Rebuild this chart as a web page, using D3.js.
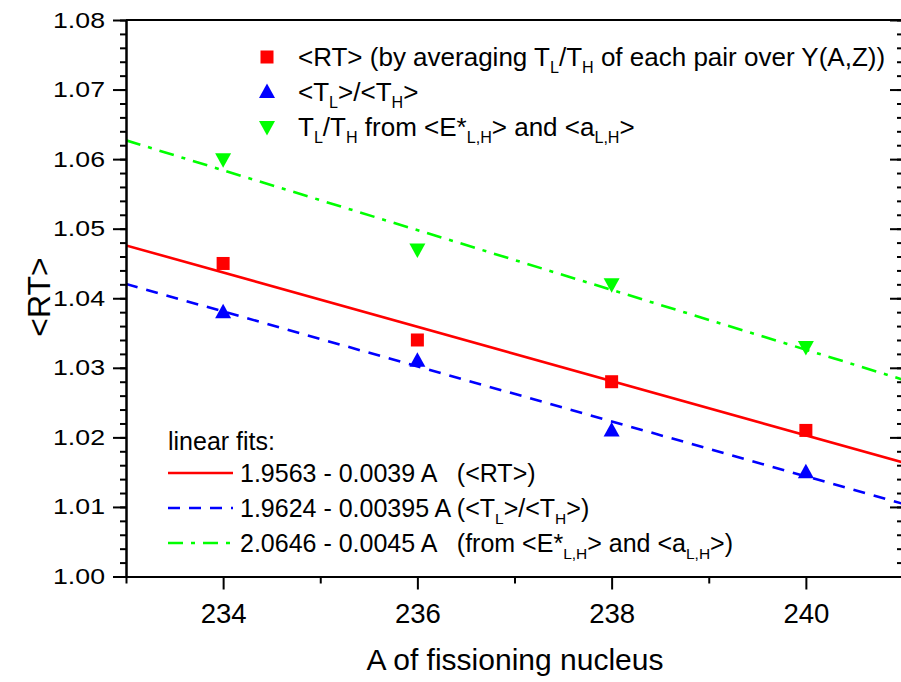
<!DOCTYPE html>
<html>
<head>
<meta charset="utf-8">
<script src="https://cdn.jsdelivr.net/npm/d3@7"></script>
<style>
  html, body { margin: 0; padding: 0; background: #fff; }
  svg { display: block; font-family: "Liberation Sans", Arial, sans-serif; }
  svg text { white-space: pre; }
</style>
</head>
<body>
<svg id="chart" width="901" height="682"></svg>
<script>
// ---------------- data ----------------
const massNumbers = [234, 236, 238, 240];
const rtAveraged = [1.045, 1.034, 1.028, 1.021];   // red squares
const tRatioMeans = [1.038, 1.031, 1.021, 1.015];  // blue up-triangles
const tFromEnergy = [1.060, 1.047, 1.042, 1.033];  // green down-triangles

const fitIntercepts = [1.9563, 1.9624, 2.0646];
const fitSlopes = [0.0039, 0.00395, 0.0043];

const xDomain = [233, 241];
const yDomain = [1.00, 1.08];
const xTickValues = [234, 236, 238, 240];
const xMinorValues = [233, 235, 237, 239, 241];
const yTickValues = [1.00, 1.01, 1.02, 1.03, 1.04, 1.05, 1.06, 1.07, 1.08];

const markerLabels = [
  "<RT> (by averaging T_{L}/T_{H} of each pair over Y(A,Z))",
  "<T_{L}>/<T_{H}>",
  "T_{L}/T_{H} from <E*_{L,H}> and <a_{L,H}>"
];
const fitLabels = [
  "1.9563 - 0.0039 A   (<RT>)",
  "1.9624 - 0.00395 A (<T_{L}>/<T_{H}>)",
  "2.0646 - 0.0045 A   (from <E*_{L,H}> and <a_{L,H}>)"
];
const fitTitle = "linear fits:";
const xTitle = "A of fissioning nucleus";
const yTitle = "<RT>";

// ---------------- styles ----------------
const colors = ["#ff0000", "#0000ff", "#00ff00"];
const dashes = [null, "12,9", "15,8,4,8"];
const seriesValues = [rtAveraged, tRatioMeans, tFromEnergy];
const markerTypes = ["square", "up", "down"];

const svg = d3.select("#chart");
const L = 126, R = 903, T = 20, B = 576.5;

const x = d3.scaleLinear().domain(xDomain).range([L, R]);
const y = d3.scaleLinear().domain(yDomain).range([B, T]);

// rich text helper: supports _{sub}
function rich(sel, str, size) {
  const parts = str.split(/(_\{[^}]*\})/).filter(p => p);
  const shift = size * 0.28;
  let pendingUp = false;
  parts.forEach(p => {
    if (p.startsWith("_{")) {
      sel.append("tspan").attr("font-size", size * 0.62).attr("dy", shift)
        .text(p.slice(2, -1));
      pendingUp = true;
    } else {
      const ts = sel.append("tspan").attr("font-size", size).text(p);
      if (pendingUp) { ts.attr("dy", -shift); pendingUp = false; }
    }
  });
}

// clip
svg.append("clipPath").attr("id", "clip").append("rect")
  .attr("x", L).attr("y", T).attr("width", R - L).attr("height", B - T);

// fit lines
const fitG = svg.append("g").attr("clip-path", "url(#clip)");
fitIntercepts.forEach((a, i) => {
  const line = d3.line().x(d => x(d)).y(d => y(a - fitSlopes[i] * d));
  fitG.append("path")
    .attr("d", line(xDomain))
    .attr("fill", "none")
    .attr("stroke", colors[i])
    .attr("stroke-width", 2.6)
    .attr("stroke-dasharray", dashes[i]);
});

// marker shapes
function marker(g, type, cx, cy, color) {
  if (type === "square") {
    g.append("rect").attr("x", cx - 6.5).attr("y", cy - 6.5)
      .attr("width", 13).attr("height", 13).attr("fill", color);
  } else if (type === "up") {
    g.append("path").attr("d", `M${cx},${cy - 8.5}L${cx + 8},${cy + 6}L${cx - 8},${cy + 6}Z`)
      .attr("fill", color);
  } else {
    g.append("path").attr("d", `M${cx},${cy + 8.5}L${cx + 8},${cy - 6}L${cx - 8},${cy - 6}Z`)
      .attr("fill", color);
  }
}

const ptsG = svg.append("g");
seriesValues.forEach((vals, i) => {
  vals.forEach((v, j) => marker(ptsG, markerTypes[i], x(massNumbers[j]), y(v), colors[i]));
});

// axes
const axisColor = "#000";
function styleAxis(g) {
  g.selectAll("path.domain").attr("stroke", axisColor).attr("stroke-width", 2);
  g.selectAll(".tick line").attr("stroke", axisColor).attr("stroke-width", 2);
}

// left axis
const yMinor = d3.range(1.00, 1.0801, 0.002);
svg.append("g").attr("transform", `translate(${L},0)`)
  .call(d3.axisLeft(y).tickValues(yMinor).tickSize(6).tickSizeOuter(0).tickFormat(""))
  .call(styleAxis);
const yAx = svg.append("g").attr("transform", `translate(${L},0)`)
  .call(d3.axisLeft(y).tickValues(yTickValues).tickSize(13).tickSizeOuter(0).tickFormat(d3.format(".2f")).tickPadding(8))
  .call(styleAxis);
yAx.selectAll("text").attr("font-size", 22).attr("fill", "#000")
  .attr("font-family", "'Liberation Sans', Arial, sans-serif")
  .attr("textLength", 52).attr("lengthAdjust", "spacingAndGlyphs");

// right axis (ticks pointing inward)
svg.append("g").attr("transform", `translate(${R},0)`)
  .call(d3.axisLeft(y).tickValues(yMinor).tickSize(6).tickSizeOuter(0).tickFormat(""))
  .call(styleAxis);
svg.append("g").attr("transform", `translate(${R},0)`)
  .call(d3.axisLeft(y).tickValues(yTickValues).tickSize(13).tickSizeOuter(0).tickFormat(""))
  .call(styleAxis);

// bottom axis
svg.append("g").attr("transform", `translate(0,${B})`)
  .call(d3.axisBottom(x).tickValues(xMinorValues).tickSize(7).tickSizeOuter(0).tickFormat(""))
  .call(styleAxis);
const xAx = svg.append("g").attr("transform", `translate(0,${B})`)
  .call(d3.axisBottom(x).tickValues(xTickValues).tickSize(13).tickSizeOuter(0).tickFormat(d3.format("d")).tickPadding(14))
  .call(styleAxis);
xAx.selectAll("text").attr("font-size", 28).attr("fill", "#000")
  .attr("font-family", "'Liberation Sans', Arial, sans-serif")
  .attr("textLength", 46).attr("lengthAdjust", "spacingAndGlyphs");

// top axis line
svg.append("line").attr("x1", L).attr("x2", R).attr("y1", T).attr("y2", T)
  .attr("stroke", axisColor).attr("stroke-width", 2);

// titles
svg.append("text").attr("x", 515).attr("y", 670).attr("text-anchor", "middle")
  .attr("font-size", 30).text(xTitle);
svg.append("text").attr("transform", "translate(50,297) rotate(-90)")
  .attr("text-anchor", "middle").attr("font-size", 32).text(yTitle);

// top legend
const legY = [57, 92, 127];
markerLabels.forEach((lab, i) => {
  marker(svg, markerTypes[i], 267, legY[i], colors[i]);
  const t = svg.append("text").attr("x", 298).attr("y", legY[i] + 9);
  rich(t, lab, 26);
});

// bottom legend
svg.append("text").attr("x", 168).attr("y", 450).attr("font-size", 25).text(fitTitle);
const fitY = [473, 508, 543];
fitLabels.forEach((lab, i) => {
  svg.append("line").attr("x1", 168).attr("x2", 233).attr("y1", fitY[i]).attr("y2", fitY[i])
    .attr("stroke", colors[i]).attr("stroke-width", 2.6).attr("stroke-dasharray", dashes[i]);
  const t = svg.append("text").attr("x", 240).attr("y", fitY[i] + 9);
  rich(t, lab, 25);
});
</script>
</body>
</html>
